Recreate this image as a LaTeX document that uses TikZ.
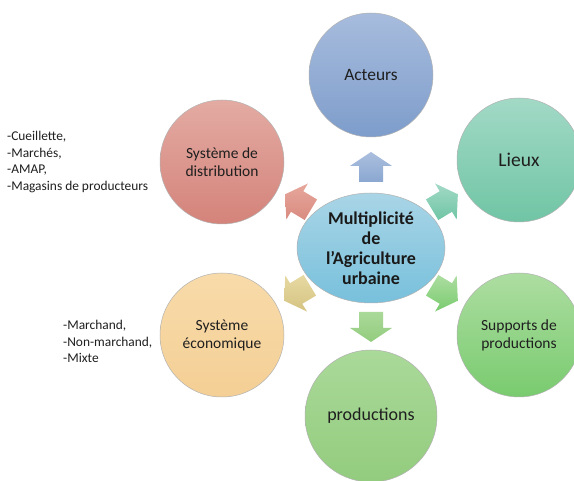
\documentclass[tikz,border=0pt]{standalone}
\usepackage{fontspec}
\setmainfont{Carlito}
\usetikzlibrary{shapes.geometric}
\tikzset{
  circ/.style={circle, minimum size=124pt, inner sep=0pt, draw=black!30, line width=0.5pt,
    align=center, font=\fontsize{15.5}{18}\selectfont, text=black!88},
  hub/.style={ellipse, minimum width=148pt, minimum height=110pt, inner sep=0pt, draw=black!30,
    line width=0.5pt, align=center, font=\fontsize{18}{20}\selectfont\bfseries, text=black!90,
    top color=hubT, bottom color=hubB},
  sidelist/.style={anchor=west, align=left, inner sep=0pt, font=\fontsize{13.4}{16.6}\selectfont, text=black!88},
  barrowshape/.style={draw=none}
}
\definecolor{hubT}{HTML}{A9D5E6}\definecolor{hubB}{HTML}{78C0DC}
\definecolor{actT}{HTML}{A7BCDD}\definecolor{actB}{HTML}{7E9DCB}
\definecolor{lieT}{HTML}{A2D9C6}\definecolor{lieB}{HTML}{70C5A5}
\definecolor{supT}{HTML}{ADDDA1}\definecolor{supB}{HTML}{79CB6F}
\definecolor{proT}{HTML}{AAD999}\definecolor{proB}{HTML}{93CC7E}
\definecolor{ecoT}{HTML}{F8DBAA}\definecolor{ecoB}{HTML}{F4CF95}
\definecolor{disT}{HTML}{E3ABA3}\definecolor{disB}{HTML}{D4837A}
\definecolor{ecoAT}{HTML}{E6D9A2}\definecolor{ecoAB}{HTML}{D5C381}
\definecolor{disAT}{HTML}{E7A79C}\definecolor{disAB}{HTML}{D98B80}
\newcommand{\blockarr}[5]{%
  \path[barrowshape, shift={(#2,#3)}, rotate=#1, top color=#4, bottom color=#5]
    (-15,-12) -- (1,-12) -- (1,-21) -- (15,0) -- (1,21) -- (1,12) -- (-15,12) -- cycle;}
\begin{document}
\begin{tikzpicture}[x=1pt,y=1pt]
\useasboundingbox (0,0) rectangle (574,-481);
\fill[white] (0,0) rectangle (574,-481);

\node[hub] (hub) at (371,-248) {Multiplicité\\de\\l’Agriculture\\urbaine};

\node[circ, top color=actT, bottom color=actB, font=\fontsize{17.4}{20}\selectfont] (act) at (371,-75) {Acteurs};
\node[circ, top color=lieT, bottom color=lieB, font=\fontsize{19.5}{22}\selectfont] (lie) at (519,-160) {Lieux};
\node[circ, top color=supT, bottom color=supB] (sup) at (519,-335) {Supports de\\productions};
\node[circ, minimum size=132pt, top color=proT, bottom color=proB, font=\fontsize{18}{20}\selectfont] (pro) at (371,-416) {productions};
\node[circ, top color=ecoT, bottom color=ecoB] (eco) at (222,-335) {Système\\économique};
\node[circ, top color=disT, bottom color=disB] (dis) at (222,-162) {Système de\\distribution};

\blockarr{90}{371}{-167}{actT!95!white}{actB!90!white}
\blockarr{31}{445}{-202}{lieT}{lieB}
\blockarr{-31}{445}{-293}{supT}{supB}
\blockarr{-90}{371}{-327}{proT}{proB}
\blockarr{211}{297}{-293}{ecoAT}{ecoAB}
\blockarr{149}{298}{-202}{disAT}{disAB}

\node[sidelist] (dislist) at (7,-162) {-Cueillette,\\-Marchés,\\-AMAP,\\-Magasins de producteurs};
\node[sidelist] (ecolist) at (63,-341.5) {-Marchand,\\-Non-marchand,\\-Mixte};
\end{tikzpicture}
\end{document}
